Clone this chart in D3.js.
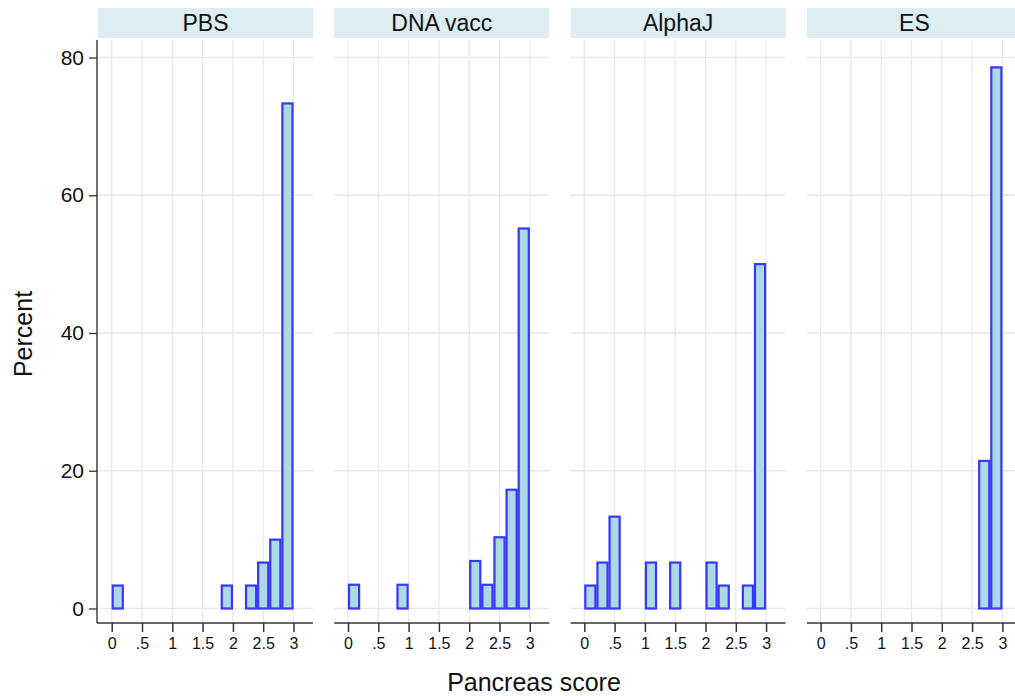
<!DOCTYPE html>
<html><head><meta charset="utf-8">
<script src="https://cdn.jsdelivr.net/npm/d3@7"></script>
<style>body{margin:0;background:#fff}</style>
</head><body>
<svg id="chart" width="1015" height="696"></svg>
<script>
const groups = ["PBS", "DNA vacc", "AlphaJ", "ES"];
const binCenters = [0.1, 0.3, 0.5, 0.7, 0.9, 1.1, 1.3, 1.5, 1.7, 1.9, 2.1, 2.3, 2.5, 2.7, 2.9];
const pbsValues   = [3.33, 0, 0, 0, 0, 0, 0, 0, 0, 3.33, 0, 3.33, 6.67, 10, 73.33];
const dnaValues   = [3.45, 0, 0, 0, 3.45, 0, 0, 0, 0, 0, 6.9, 3.45, 10.34, 17.24, 55.17];
const alphaValues = [3.33, 6.67, 13.33, 0, 0, 6.67, 0, 6.67, 0, 0, 6.67, 3.33, 0, 3.33, 50];
const esValues    = [0, 0, 0, 0, 0, 0, 0, 0, 0, 0, 0, 0, 0, 21.43, 78.57];
const seriesValues = [pbsValues, dnaValues, alphaValues, esValues];
const xTicks = [0, 0.5, 1, 1.5, 2, 2.5, 3];
const xTickLabels = ["0", ".5", "1", "1.5", "2", "2.5", "3"];
const yTicks = [0, 20, 40, 60, 80];
const binWidth = 0.2;

const svg = d3.select("#chart");
const font = "'Liberation Sans', Arial, Helvetica, sans-serif";
const plotTop = 40, plotBottom = 623;
const panelW = 215, panelPitch = 236.3, firstLeft = 98;

const y = d3.scaleLinear().domain([0, 80]).range([608.5, 57.5]);

// y axis
const yAxisG = svg.append("g").attr("transform", "translate(97,0)");
yAxisG.append("line").attr("x1", 0).attr("x2", 0).attr("y1", plotTop).attr("y2", plotBottom)
  .attr("stroke", "#222").attr("stroke-width", 1.3);
const yAxis = d3.axisLeft(y).tickValues(yTicks).tickSize(8).tickPadding(5);
yAxisG.call(yAxis);
yAxisG.select(".domain").remove();
yAxisG.selectAll(".tick line").attr("stroke", "#333").attr("stroke-width", 1.3);
yAxisG.selectAll(".tick text").attr("font-family", font).attr("font-size", 21).attr("fill", "#111");

groups.forEach((g, i) => {
  const left = firstLeft + i * panelPitch;
  const x = d3.scaleLinear().domain([0, 3]).range([left + 13.7, left + 13.7 + 181.8]);
  const right = left + panelW;
  const pg = svg.append("g");

  // gridlines
  pg.selectAll("line.vg").data(xTicks).enter().append("line")
    .attr("x1", d => x(d)).attr("x2", d => x(d)).attr("y1", plotTop).attr("y2", plotBottom)
    .attr("stroke", "#e9e9e9").attr("stroke-width", 1.3);
  pg.selectAll("line.hg").data(yTicks).enter().append("line")
    .attr("x1", left).attr("x2", right).attr("y1", d => y(d)).attr("y2", d => y(d))
    .attr("stroke", "#e9e9e9").attr("stroke-width", 1.3);

  // header
  pg.append("rect").attr("x", left).attr("y", 8).attr("width", panelW).attr("height", 30)
    .attr("fill", "#dcedf4");
  pg.append("text").attr("x", left + panelW / 2).attr("y", 31).attr("text-anchor", "middle")
    .attr("font-family", font).attr("font-size", 23).attr("fill", "#111").text(g);

  // bars
  const data = binCenters.map((c, k) => ({c, v: seriesValues[i][k]})).filter(d => d.v > 0);
  pg.selectAll("rect.bar").data(data).enter().append("rect")
    .attr("x", d => x(d.c - binWidth / 2) + 1)
    .attr("width", d => x(d.c + binWidth / 2) - x(d.c - binWidth / 2) - 2)
    .attr("y", d => y(d.v))
    .attr("height", d => y(0) - y(d.v))
    .attr("fill", "#add8e6").attr("stroke", "#3636ff").attr("stroke-width", 2.2);

  // x axis
  const xg = pg.append("g").attr("transform", `translate(0,${plotBottom})`);
  xg.append("line").attr("x1", i === 0 ? 97 : left).attr("x2", right).attr("y1", 0).attr("y2", 0)
    .attr("stroke", "#333").attr("stroke-width", 1.6);
  const xAxis = d3.axisBottom(x).tickValues(xTicks).tickFormat((d, k) => xTickLabels[k]).tickSize(9).tickPadding(6);
  xg.call(xAxis);
  xg.select(".domain").remove();
  xg.selectAll(".tick line").attr("stroke", "#333").attr("stroke-width", 1.5);
  xg.selectAll(".tick text").attr("font-family", font).attr("font-size", 16).attr("fill", "#111");
});

svg.append("text").attr("x", 534).attr("y", 691).attr("text-anchor", "middle")
  .attr("font-family", font).attr("font-size", 25).attr("fill", "#111").text("Pancreas score");
svg.append("text").attr("transform", "translate(32,334) rotate(-90)").attr("text-anchor", "middle")
  .attr("font-family", font).attr("font-size", 25).attr("fill", "#111").text("Percent");
</script>
</body></html>
